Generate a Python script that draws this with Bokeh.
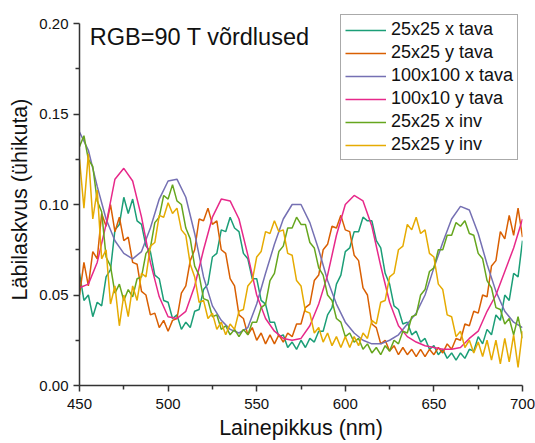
from bokeh.plotting import figure
from bokeh.models import FixedTicker, Legend, LegendItem, Label, NumeralTickFormatter, Range1d
from bokeh.embed import file_html
from bokeh.resources import INLINE

# ---- data -----------------------------------------------------------------
# wavelength grid of the noisy series (nm)
wl = [450, 452.5, 455, 457.5, 460, 462.5, 465, 467.5, 470, 472.5,
      475, 477.5, 480, 482.5, 485, 487.5, 490, 492.5, 495, 497.5,
      500, 502.5, 505, 507.5, 510, 512.5, 515, 517.5, 520, 522.5,
      525, 527.5, 530, 532.5, 535, 537.5, 540, 542.5, 545, 547.5,
      550, 552.5, 555, 557.5, 560, 562.5, 565, 567.5, 570, 572.5,
      575, 577.5, 580, 582.5, 585, 587.5, 590, 592.5, 595, 597.5,
      600, 602.5, 605, 607.5, 610, 612.5, 615, 617.5, 620, 622.5,
      625, 627.5, 630, 632.5, 635, 637.5, 640, 642.5, 645, 647.5,
      650, 652.5, 655, 657.5, 660, 662.5, 665, 667.5, 670, 672.5,
      675, 677.5, 680, 682.5, 685, 687.5, 690, 692.5, 695, 697.5,
      700]

x25_tava = [0.062, 0.047, 0.050, 0.038, 0.046, 0.044, 0.060, 0.064, 0.086, 0.089,
            0.104, 0.095, 0.103, 0.091, 0.089, 0.077, 0.074, 0.061, 0.059, 0.047,
            0.046, 0.037, 0.039, 0.031, 0.035, 0.032, 0.041, 0.042, 0.053, 0.056,
            0.071, 0.073, 0.086, 0.085, 0.093, 0.087, 0.085, 0.073, 0.070, 0.059,
            0.059, 0.047, 0.045, 0.035, 0.035, 0.027, 0.028, 0.021, 0.024, 0.020,
            0.025, 0.021, 0.026, 0.024, 0.030, 0.030, 0.039, 0.043, 0.056, 0.061,
            0.074, 0.076, 0.085, 0.085, 0.093, 0.091, 0.091, 0.080, 0.076, 0.062,
            0.056, 0.044, 0.042, 0.034, 0.035, 0.028, 0.030, 0.024, 0.026, 0.020,
            0.022, 0.017, 0.020, 0.015, 0.018, 0.014, 0.018, 0.015, 0.020, 0.019,
            0.027, 0.023, 0.031, 0.028, 0.039, 0.036, 0.050, 0.047, 0.062, 0.060,
            0.080]

y25_tava = [0.050, 0.068, 0.055, 0.074, 0.070, 0.095, 0.088, 0.100, 0.085, 0.093,
            0.080, 0.082, 0.068, 0.067, 0.052, 0.050, 0.039, 0.040, 0.032, 0.036,
            0.030, 0.036, 0.037, 0.051, 0.055, 0.069, 0.075, 0.092, 0.091, 0.098,
            0.089, 0.091, 0.075, 0.073, 0.059, 0.055, 0.039, 0.037, 0.028, 0.032,
            0.025, 0.029, 0.023, 0.028, 0.023, 0.028, 0.024, 0.029, 0.027, 0.034,
            0.034, 0.043, 0.045, 0.058, 0.061, 0.075, 0.078, 0.088, 0.087, 0.094,
            0.086, 0.085, 0.072, 0.069, 0.054, 0.050, 0.034, 0.032, 0.023, 0.025,
            0.019, 0.022, 0.017, 0.021, 0.017, 0.020, 0.016, 0.020, 0.016, 0.020,
            0.017, 0.021, 0.018, 0.023, 0.020, 0.026, 0.025, 0.034, 0.033, 0.041,
            0.040, 0.050, 0.049, 0.066, 0.069, 0.085, 0.081, 0.094, 0.083, 0.098,
            0.082]

x25_inv = [0.132, 0.138, 0.125, 0.121, 0.102, 0.096, 0.071, 0.066, 0.051, 0.056,
           0.047, 0.053, 0.049, 0.059, 0.060, 0.073, 0.076, 0.090, 0.093, 0.105,
           0.103, 0.111, 0.102, 0.100, 0.087, 0.081, 0.066, 0.061, 0.048, 0.047,
           0.038, 0.039, 0.031, 0.033, 0.028, 0.031, 0.027, 0.031, 0.028, 0.035,
           0.035, 0.043, 0.045, 0.058, 0.062, 0.074, 0.077, 0.087, 0.087, 0.093,
           0.089, 0.089, 0.079, 0.076, 0.065, 0.061, 0.050, 0.047, 0.037, 0.035,
           0.027, 0.029, 0.024, 0.026, 0.020, 0.023, 0.018, 0.021, 0.017, 0.022,
           0.019, 0.025, 0.023, 0.030, 0.029, 0.038, 0.039, 0.050, 0.053, 0.063,
           0.065, 0.075, 0.075, 0.083, 0.083, 0.090, 0.088, 0.091, 0.084, 0.083,
           0.073, 0.070, 0.058, 0.054, 0.043, 0.042, 0.034, 0.037, 0.028, 0.038,
           0.026]

y25_inv = [0.125, 0.098, 0.128, 0.092, 0.108, 0.070, 0.075, 0.045, 0.055, 0.033,
           0.050, 0.038, 0.055, 0.047, 0.062, 0.060, 0.077, 0.079, 0.094, 0.093,
           0.101, 0.095, 0.098, 0.086, 0.083, 0.067, 0.060, 0.046, 0.047, 0.037,
           0.040, 0.031, 0.035, 0.028, 0.034, 0.031, 0.041, 0.042, 0.055, 0.058,
           0.071, 0.074, 0.085, 0.084, 0.091, 0.085, 0.086, 0.073, 0.072, 0.058,
           0.055, 0.041, 0.040, 0.029, 0.032, 0.024, 0.029, 0.022, 0.027, 0.021,
           0.027, 0.021, 0.027, 0.022, 0.029, 0.026, 0.036, 0.034, 0.046, 0.047,
           0.060, 0.062, 0.075, 0.077, 0.089, 0.086, 0.093, 0.084, 0.086, 0.073,
           0.071, 0.056, 0.053, 0.039, 0.038, 0.027, 0.030, 0.021, 0.025, 0.018,
           0.024, 0.016, 0.025, 0.014, 0.025, 0.012, 0.026, 0.013, 0.028, 0.010,
           0.030]

# wavelength grid of the smooth series (nm)
wl5 = [450, 455, 460, 465, 470, 475, 480, 485, 490, 495,
       500, 505, 510, 515, 520, 525, 530, 535, 540, 545,
       550, 555, 560, 565, 570, 575, 580, 585, 590, 595,
       600, 605, 610, 615, 620, 625, 630, 635, 640, 645,
       650, 655, 660, 665, 670, 675, 680, 685, 690, 695,
       700]

x100_tava = [0.140, 0.130, 0.110, 0.092, 0.080, 0.073, 0.070, 0.074, 0.087, 0.103,
             0.113, 0.114, 0.104, 0.084, 0.060, 0.044, 0.036, 0.031, 0.029, 0.032,
             0.045, 0.062, 0.078, 0.092, 0.100, 0.100, 0.090, 0.075, 0.058, 0.045,
             0.035, 0.029, 0.025, 0.023, 0.023, 0.025, 0.028, 0.034, 0.040, 0.050,
             0.065, 0.079, 0.092, 0.099, 0.097, 0.084, 0.067, 0.052, 0.041, 0.035,
             0.032]

y100x10_tava = [0.054, 0.056, 0.068, 0.089, 0.114, 0.120, 0.113, 0.093, 0.068, 0.049,
                0.038, 0.037, 0.041, 0.055, 0.075, 0.093, 0.103, 0.102, 0.092, 0.072,
                0.050, 0.037, 0.030, 0.026, 0.025, 0.026, 0.033, 0.045, 0.061, 0.083,
                0.100, 0.105, 0.102, 0.088, 0.066, 0.046, 0.033, 0.027, 0.024, 0.022,
                0.021, 0.020, 0.020, 0.021, 0.026, 0.030, 0.041, 0.050, 0.063, 0.076,
                0.092]

labels = ["25x25 x tava", "25x25 y tava", "100x100 x tava",
          "100x10 y tava", "25x25 x inv", "25x25 y inv"]
colors = ["#1b9e77", "#d95f02", "#7570b3", "#e7298a", "#66a61e", "#e6ab02"]

x_ticks = [450, 500, 550, 600, 650, 700]
x_minor = [475, 525, 575, 625, 675]
y_ticks = [0.00, 0.05, 0.10, 0.15, 0.20]
y_minor = [0.025, 0.075, 0.125, 0.175]

title_text = "RGB=90 T võrdlused"
x_label = "Lainepikkus (nm)"
y_label = "Läbilaskvus (ühikuta)"

FONT = "Liberation Sans"

# ---- figure -----------------------------------------------------------------
# the frame extends a little above 0.20 so the legend box can reach above
# the end of the y axis, as in the reference
p = figure(width=535, height=443,
           x_range=Range1d(450, 700), y_range=Range1d(0, 0.20554),
           output_backend="svg", toolbar_location=None,
           min_border_left=79, min_border_right=13,
           min_border_top=13, min_border_bottom=58)
p.outline_line_color = None
p.grid.visible = False
p.background_fill_color = "white"
p.border_fill_color = "white"

series = [(wl, x25_tava), (wl, y25_tava), (wl5, x100_tava),
          (wl5, y100x10_tava), (wl, x25_inv), (wl, y25_inv)]
renderers = []
for (xs, ys), c in zip(series, colors):
    r = p.line(xs, ys, line_color=c, line_width=1.5)
    renderers.append(r)

# axes
for ax in (p.xaxis[0], p.yaxis[0]):
    ax.axis_line_color = "#333333"
    ax.axis_line_width = 1.5
    ax.major_tick_line_color = "#333333"
    ax.major_tick_line_width = 1.5
    ax.minor_tick_line_color = "#333333"
    ax.minor_tick_line_width = 1.5
    ax.major_tick_out = 6
    ax.major_tick_in = 0
    ax.minor_tick_out = 4
    ax.minor_tick_in = 0
    ax.major_label_text_font = FONT
    ax.major_label_text_font_size = "15px"
    ax.major_label_text_color = "#111111"
    ax.axis_label_text_font = FONT
    ax.axis_label_text_font_size = "21.5px"
    ax.axis_label_text_font_style = "normal"
    ax.axis_label_text_color = "#111111"

p.yaxis.bounds = (0, 0.2)
p.xaxis.ticker = FixedTicker(ticks=x_ticks, minor_ticks=x_minor)
p.yaxis.ticker = FixedTicker(ticks=y_ticks, minor_ticks=y_minor)
p.yaxis.formatter = NumeralTickFormatter(format="0.00")
p.xaxis.axis_label = x_label
p.yaxis.axis_label = y_label
p.xaxis.major_label_standoff = 7
p.xaxis.axis_label_standoff = 4
p.yaxis.major_label_standoff = 5
p.yaxis.axis_label_standoff = 4

# in-plot title
p.add_layout(Label(x=455.8, y=0.1925, text=title_text,
                   text_font=FONT, text_font_size="23.5px",
                   text_color="#111111", text_baseline="alphabetic"))

# legend
items = [LegendItem(label=l, renderers=[r]) for l, r in zip(labels, renderers)]
legend = Legend(items=items, location=(261, 225),
                label_text_font=FONT, label_text_font_size="18px",
                label_text_color="#111111",
                glyph_width=41, glyph_height=20, label_height=20,
                label_standoff=5, spacing=2, padding=4, margin=0,
                border_line_color="#555555", border_line_width=1.5,
                background_fill_color="white", background_fill_alpha=1.0)
p.add_layout(legend)

open("out.html", "w").write(file_html(p, INLINE))
